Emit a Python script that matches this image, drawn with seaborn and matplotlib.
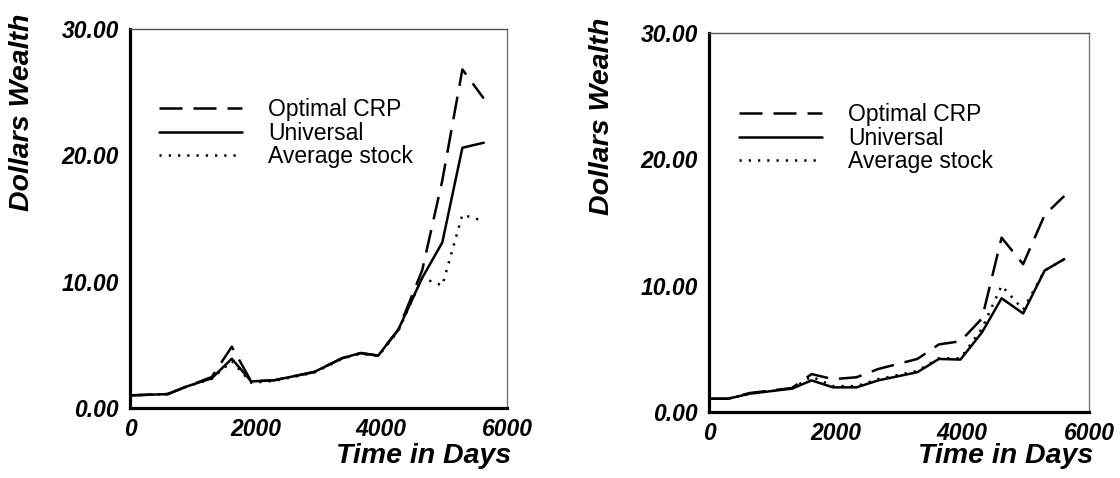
import matplotlib
matplotlib.use("Agg")
import matplotlib.pyplot as plt
import seaborn as sns
import pandas as pd
from matplotlib.ticker import FormatStrFormatter

sns.set_theme(style="white")
plt.rcParams['font.family'] = ['Liberation Sans', 'DejaVu Sans']
plt.rcParams['text.color'] = 'black'

series_names = ["Optimal CRP", "Universal", "Average stock"]

# Left panel
days_a = [0, 300, 600, 900, 1300, 1620, 1930, 2300, 2930, 3380, 3670, 3950, 4270, 4650, 4970, 5290, 5630]
optimal_a = [1.0, 1.05, 1.1, 1.7, 2.45, 4.85, 2.1, 2.2, 2.85, 3.95, 4.35, 4.15, 6.2, 10.9, 18.0, 26.8, 24.5]
universal_a = [1.0, 1.05, 1.1, 1.7, 2.35, 3.9, 2.1, 2.2, 2.85, 3.95, 4.35, 4.15, 6.2, 10.3, 13.1, 20.6, 21.0]
average_a = [1.0, 1.05, 1.1, 1.7, 2.3, 3.7, 2.0, 2.15, 2.8, 3.9, 4.3, 4.1, 6.1, 10.3, 9.7, 15.3, 14.8]

# Right panel
days_b = [0, 300, 640, 1310, 1620, 1960, 2330, 2670, 3290, 3630, 3970, 4310, 4620, 4960, 5300, 5610]
optimal_b = [1.05, 1.05, 1.5, 1.9, 3.0, 2.6, 2.75, 3.4, 4.2, 5.35, 5.6, 7.4, 13.8, 11.7, 15.6, 17.1]
universal_b = [1.05, 1.05, 1.45, 1.85, 2.5, 1.95, 1.95, 2.5, 3.15, 4.2, 4.15, 6.3, 9.0, 7.8, 11.2, 12.1]
average_b = [1.05, 1.05, 1.45, 1.85, 2.8, 2.05, 2.05, 2.6, 3.25, 4.25, 4.25, 6.6, 10.0, 8.1, 11.2, 12.1]

x_ticks = [0, 2000, 4000, 6000]
y_ticks = [0, 10, 20, 30]

styles = {
    "Optimal CRP": (0, (9.2, 4.4)),
    "Universal": "-",
    "Average stock": (0, (0.9, 2.8)),
}
LW = 1.8

fig = plt.figure(figsize=(11.2, 4.78), dpi=100)
ax1 = fig.add_axes([130/1120, (478-408)/478, 377/1120, 379/478])
ax2 = fig.add_axes([709/1120, (478-412)/478, 380/1120, 379/478])

panels = [
    (ax1, days_a, [optimal_a, universal_a, average_a], (0.078, 0.818), -0.252, -0.092),
    (ax2, days_b, [optimal_b, universal_b, average_b], (0.08, 0.815), -0.247, -0.082),
]

for ax, days, vals, leg_pos, ylab_x, xlab_y in panels:
    for name, v in zip(series_names, vals):
        df = pd.DataFrame({"days": days, "wealth": v})
        sns.lineplot(data=df, x="days", y="wealth", ax=ax, color="black",
                     linewidth=LW, linestyle=styles[name], label=name)
    ax.set_xlim(0, 6000)
    ax.set_ylim(0, 30)
    ax.set_xticks(x_ticks)
    ax.set_yticks(y_ticks)
    ax.yaxis.set_major_formatter(FormatStrFormatter('%.2f'))
    ax.tick_params(axis='both', length=0, labelsize=16.5, colors='black')
    ax.tick_params(axis='x', pad=7)
    ax.tick_params(axis='y', pad=8)
    for lab in ax.get_xticklabels() + ax.get_yticklabels():
        lab.set_fontweight('bold')
        lab.set_fontstyle('italic')
    ax.set_xlabel("Time in Days", fontsize=20.5, fontweight='bold', fontstyle='italic', color='black')
    ax.set_ylabel("Dollars Wealth", fontsize=20.5, fontweight='bold', fontstyle='italic', color='black')
    ax.xaxis.set_label_coords(1.01, xlab_y)
    ax.xaxis.label.set_ha('right')
    ax.yaxis.set_label_coords(ylab_x, 0.78)
    for s in ['left', 'bottom']:
        ax.spines[s].set_linewidth(2.3)
        ax.spines[s].set_color('black')
    ax.spines['top'].set_linewidth(1.0)
    ax.spines['right'].set_linewidth(1.0)
    ax.spines['top'].set_color('#555555')
    ax.spines['right'].set_color('#777777')
    leg = ax.legend(loc='upper left', bbox_to_anchor=leg_pos, frameon=False,
                    fontsize=16.5, handlelength=3.6, handletextpad=1.15,
                    labelspacing=0.03, borderpad=0, borderaxespad=0)
    for t in leg.get_texts():
        t.set_color('black')
    for h in leg.get_lines():
        h.set_linewidth(LW)

fig.savefig("out.png", dpi=100)
